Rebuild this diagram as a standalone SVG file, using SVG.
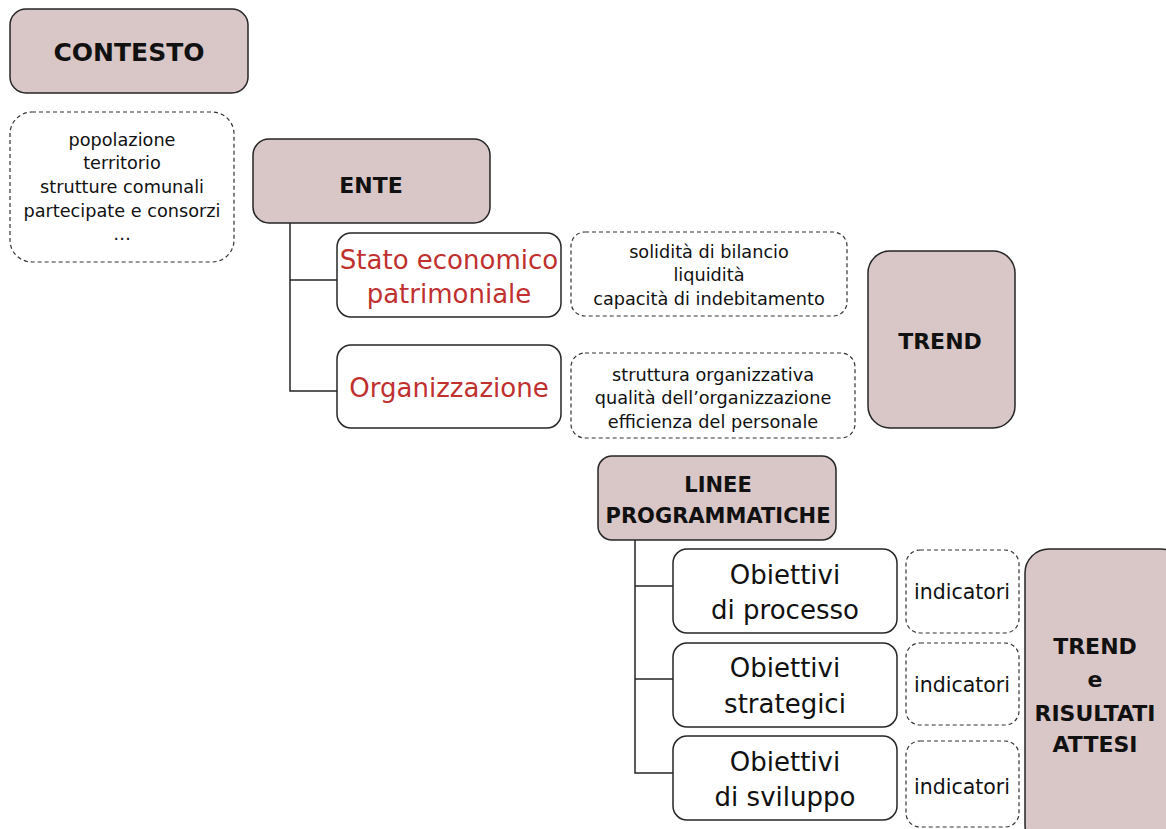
<svg xmlns="http://www.w3.org/2000/svg" width="1166" height="829" viewBox="0 0 1166 829">
<style>
.f{fill:#d9c6c6;stroke:#262626;stroke-width:1.5}
.w{fill:#fff;stroke:#262626;stroke-width:1.5}
.d{fill:#fff;stroke:#333;stroke-width:1.2;stroke-dasharray:4 3}
text{font-family:"DejaVu Sans",sans-serif;text-anchor:middle;fill:#111}
.b{font-weight:bold;font-size:22px}
.s{font-size:17.7px}
.i{font-size:20.5px}
.r{fill:#c0302f;font-size:26px}
.o{font-size:26px}
.c{fill:none;stroke:#262626;stroke-width:1.5}
</style>
<rect width="1166" height="829" fill="#fff"/>
<g id="connectors">
<path class="c" d="M290,223 V391 H337 M290,280 H337"/>
<path class="c" d="M635,540 V773 H673 M635,586 H673 M635,679 H673"/>
</g>
<g id="contesto"><rect class="f" x="10" y="9" width="238" height="84" rx="16"/><text class="b" x="129" y="61" style="font-size:25px">CONTESTO</text></g>
<g id="contesto-list"><rect class="d" x="10" y="112" width="224" height="150" rx="22"/>
<text class="s" x="122" y="146">popolazione</text><text class="s" x="122" y="169">territorio</text><text class="s" x="122" y="193">strutture comunali</text><text class="s" x="122" y="217">partecipate e consorzi</text><text class="s" x="122" y="240">…</text></g>
<g id="ente"><rect class="f" x="253" y="139" width="237" height="84" rx="16"/><text class="b" x="371" y="193">ENTE</text></g>
<g id="stato"><rect class="w" x="337" y="233" width="224" height="84" rx="14"/><text class="r" x="449" y="269">Stato economico</text><text class="r" x="449" y="303">patrimoniale</text></g>
<g id="organizzazione"><rect class="w" x="337" y="345" width="224" height="83" rx="14"/><text class="r" x="449" y="397">Organizzazione</text></g>
<g id="stato-list"><rect class="d" x="571" y="232" width="276" height="84" rx="14"/><text class="s" x="709" y="258">solidità di bilancio</text><text class="s" x="709" y="281">liquidità</text><text class="s" x="709" y="305">capacità di indebitamento</text></g>
<g id="org-list"><rect class="d" x="571" y="353" width="284" height="85" rx="14"/><text class="s" x="713" y="381">struttura organizzativa</text><text class="s" x="713" y="404">qualità dell’organizzazione</text><text class="s" x="713" y="428">efficienza del personale</text></g>
<g id="trend"><rect class="f" x="868" y="251" width="147" height="177" rx="22"/><text class="b" x="940" y="349">TREND</text></g>
<g id="linee"><rect class="f" x="598" y="456" width="238" height="84" rx="14"/><text class="b" x="718" y="492" style="font-size:21px">LINEE</text><text class="b" x="718" y="523" style="font-size:21px">PROGRAMMATICHE</text></g>
<g id="ob1"><rect class="w" x="673" y="549" width="224" height="84" rx="14"/><text class="o" x="785" y="584">Obiettivi</text><text class="o" x="785" y="619">di processo</text></g>
<g id="ob2"><rect class="w" x="673" y="643" width="224" height="84" rx="14"/><text class="o" x="785" y="677">Obiettivi</text><text class="o" x="785" y="713">strategici</text></g>
<g id="ob3"><rect class="w" x="673" y="736" width="224" height="84" rx="14"/><text class="o" x="785" y="771">Obiettivi</text><text class="o" x="785" y="806">di sviluppo</text></g>
<g id="ind1"><rect class="d" x="906" y="550" width="113" height="83" rx="14"/><text class="i" x="962" y="599">indicatori</text></g>
<g id="ind2"><rect class="d" x="906" y="643" width="113" height="82" rx="14"/><text class="i" x="962" y="692">indicatori</text></g>
<g id="ind3"><rect class="d" x="906" y="741" width="113" height="86" rx="14"/><text class="i" x="962" y="794">indicatori</text></g>
<g id="risultati"><rect class="f" x="1025" y="549" width="160" height="300" rx="24"/><text class="b" x="1095" y="654">TREND</text><text class="b" x="1095" y="687">e</text><text class="b" x="1095" y="721">RISULTATI</text><text class="b" x="1095" y="752">ATTESI</text></g>
</svg>
